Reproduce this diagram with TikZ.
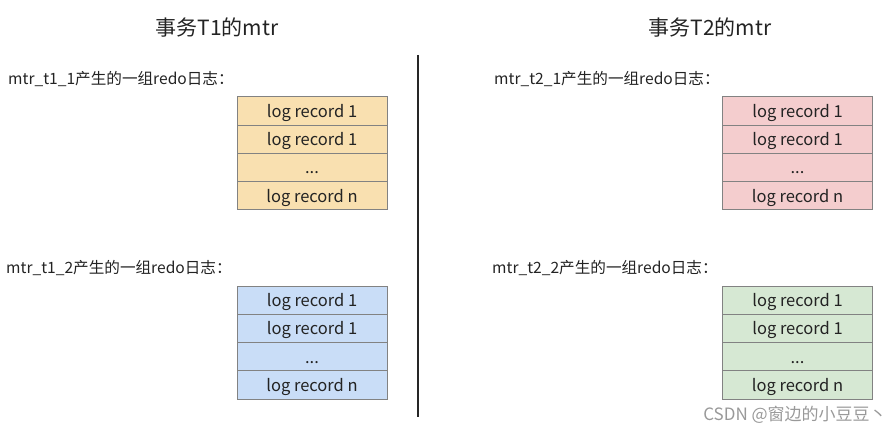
\documentclass[tikz,border=0pt]{standalone}
\usepackage{fontspec}
\setmainfont{Noto Sans CJK SC}
\definecolor{recorange}{RGB}{249, 224, 176}
\definecolor{recpink}{RGB}{244, 205, 206}
\definecolor{recblue}{RGB}{201, 221, 247}
\definecolor{recgreen}{RGB}{214, 232, 211}
\definecolor{cellline}{RGB}{130, 130, 130}
\definecolor{inkgray}{RGB}{35, 35, 35}
\usetikzlibrary{positioning}

\begin{document}
\begin{tikzpicture}[x=1pt, y=-1pt,
  rec/.style={draw=cellline, line width=0.8pt, minimum width=150pt, minimum height=28.2pt,
              inner sep=0pt, text height=13pt, text depth=0pt,
              font=\fontsize{16.5}{18}\selectfont, text=inkgray},
  grp/.style={anchor=west, inner sep=0pt, font=\fontsize{15.6}{18}\selectfont, text=inkgray},
  ttl/.style={font=\fontsize{21}{24}\selectfont, text=inkgray},
]
\useasboundingbox (0,0) rectangle (895,433);

% Titles
\node[ttl] (t1title) at (217,28) {事务T1的mtr};
\node[ttl] (t2title) at (710,28) {事务T2的mtr};

% Divider
\coordinate (divtop) at (418,55);
\coordinate (divbot) at (418,417);
\draw[line width=1.4pt, black!85] (divtop) -- (divbot);

% T1, first mtr
\node[grp] (g11) at (8,79) {mtr\_t1\_1产生的一组redo日志：};
\node[rec, fill=recorange] (a1) at (312,111) {log record 1};
\node[rec, fill=recorange] (a2) at (312,139.2) {log record 1};
\node[rec, fill=recorange] (a3) at (312,167.4) {...};
\node[rec, fill=recorange] (a4) at (312,195.6) {log record n};

% T1, second mtr
\node[grp] (g12) at (6,268) {mtr\_t1\_2产生的一组redo日志：};
\node[rec, fill=recblue] (b1) at (312,300.1) {log record 1};
\node[rec, fill=recblue] (b2) at (312,328.4) {log record 1};
\node[rec, fill=recblue] (b3) at (312,356.6) {...};
\node[rec, fill=recblue] (b4) at (312,384.9) {log record n};

% T2, first mtr
\node[grp] (g21) at (494,79) {mtr\_t2\_1产生的一组redo日志：};
\node[rec, fill=recpink] (c1) at (797.5,111) {log record 1};
\node[rec, fill=recpink] (c2) at (797.5,139.2) {log record 1};
\node[rec, fill=recpink] (c3) at (797.5,167.4) {...};
\node[rec, fill=recpink] (c4) at (797.5,195.6) {log record n};

% T2, second mtr
\node[grp] (g22) at (492,268) {mtr\_t2\_2产生的一组redo日志：};
\node[rec, fill=recgreen] (d1) at (797.5,300.1) {log record 1};
\node[rec, fill=recgreen] (d2) at (797.5,328.4) {log record 1};
\node[rec, fill=recgreen] (d3) at (797.5,356.6) {...};
\node[rec, fill=recgreen] (d4) at (797.5,384.9) {log record n};

% Watermark
\node[font=\fontsize{17}{19}\selectfont, text=black!40] (mark) at (795,415) {CSDN @窗边的小豆豆丶};
\end{tikzpicture}
\end{document}
